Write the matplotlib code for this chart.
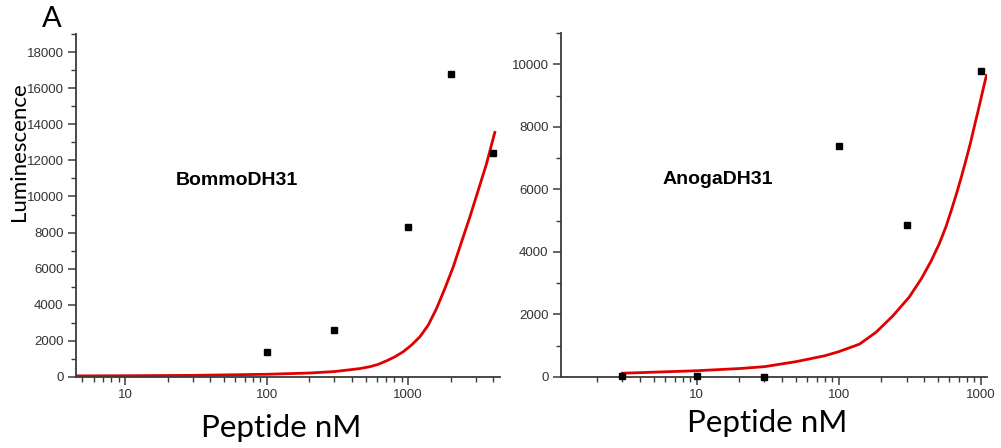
import matplotlib
matplotlib.use('Agg')
import matplotlib.pyplot as plt
from matplotlib.ticker import FixedLocator, NullFormatter, MultipleLocator, LogLocator

# BommoDH31 data
bommo_x = [100, 300, 1000, 2000, 4000]
bommo_y = [1400, 2600, 8300, 16800, 12400]
# fitted curve
bommo_fit_x = [4.5, 10, 30, 100, 200, 300, 450, 537, 614, 705, 806, 922, 1056, 1210,
               1384, 1585, 1815, 2080, 2380, 2725, 3120, 3570, 4090]
bommo_fit_y = [60, 70, 90, 150, 220, 300, 460, 570, 700, 900, 1120, 1400, 1770, 2230,
               2870, 3790, 4900, 6100, 7480, 8860, 10330, 11800, 13550]

# AnogaDH31 data
anoga_x = [3, 10, 30, 100, 300, 1000]
anoga_y = [30, 30, 0, 7400, 4850, 9800]
anoga_fit_x = [3, 10, 20, 30, 50, 80, 100, 140, 183, 240, 314, 380, 446, 510, 569,
               620, 676, 730, 787, 845, 900, 950, 1002, 1050, 1095]
anoga_fit_y = [120, 200, 270, 330, 490, 680, 810, 1050, 1430, 1950, 2560, 3130, 3700,
               4260, 4810, 5330, 5878, 6400, 6944, 7480, 8010, 8450, 8900, 9300, 9640]

x_ticks = [10, 100, 1000]
x_tick_labels = ['10', '100', '1000']

AXIS_COLOR = '#3a3a3a'
TICK_FONT = 'Liberation Sans'
LABEL_FONT = 'Lato'

fig = plt.figure(figsize=(10.01, 4.48), dpi=100)
ax1 = fig.add_axes([0.0759, 0.1585, 0.4236, 0.7656])
ax2 = fig.add_axes([0.5604, 0.1585, 0.4256, 0.7679])


def style_axis(ax, xlim, ylim, ymajor):
    ax.set_xscale('log')
    ax.set_xlim(*xlim)
    ax.set_ylim(*ylim)
    for side in ['top', 'right']:
        ax.spines[side].set_visible(False)
    for side in ['left', 'bottom']:
        ax.spines[side].set_color(AXIS_COLOR)
        ax.spines[side].set_linewidth(1.3)
    ax.xaxis.set_major_locator(FixedLocator(x_ticks))
    ax.set_xticklabels(x_tick_labels)
    ax.xaxis.set_minor_locator(LogLocator(base=10, subs=range(2, 10)))
    ax.xaxis.set_minor_formatter(NullFormatter())
    ax.yaxis.set_major_locator(MultipleLocator(ymajor))
    ax.yaxis.set_minor_locator(MultipleLocator(ymajor / 2))
    ax.tick_params(which='major', length=6, width=1.1, color=AXIS_COLOR,
                   labelsize=9.5, labelcolor='#333333', pad=3)
    ax.tick_params(which='minor', length=3.5, width=1.0, color=AXIS_COLOR)
    for lab in ax.get_xticklabels() + ax.get_yticklabels():
        lab.set_family(TICK_FONT)


# left panel
ax1.plot(bommo_fit_x, bommo_fit_y, color='#e00000', lw=2.0, zorder=2,
         solid_joinstyle='round')
ax1.plot(bommo_x, bommo_y, 's', color='black', ms=4.5, zorder=3, clip_on=False)
style_axis(ax1, (4.5, 4450), (0, 19000), 2000)
ax1.text(0.235, 0.572, 'BommoDH31', transform=ax1.transAxes, fontsize=14,
         fontweight='bold', family=TICK_FONT, va='center', ha='left')

# right panel
ax2.plot(anoga_fit_x, anoga_fit_y, color='#e00000', lw=2.0, zorder=2,
         solid_joinstyle='round')
ax2.plot(anoga_x, anoga_y, 's', color='black', ms=4.5, zorder=3, clip_on=False)
style_axis(ax2, (1.11, 1105), (0, 11000), 2000)
ax2.text(0.238, 0.573, 'AnogaDH31', transform=ax2.transAxes, fontsize=14,
         fontweight='bold', family=TICK_FONT, va='center', ha='left')

# labels and panel letter
fig.text(19.5 / 1001, 1 - 151.5 / 448, 'Luminescence', family=LABEL_FONT,
         fontsize=16, rotation=90, ha='center', va='center')
fig.text(281 / 1001, 1 - 428 / 448, 'Peptide nM', family=LABEL_FONT,
         fontsize=22.6, ha='center', va='center')
fig.text(767 / 1001, 1 - 423 / 448, 'Peptide nM', family=LABEL_FONT,
         fontsize=22.6, ha='center', va='center')
fig.text(42 / 1001, 1 - 19 / 448, 'A', family=LABEL_FONT, fontsize=21,
         ha='left', va='center')

fig.savefig('out.png', dpi=100)
